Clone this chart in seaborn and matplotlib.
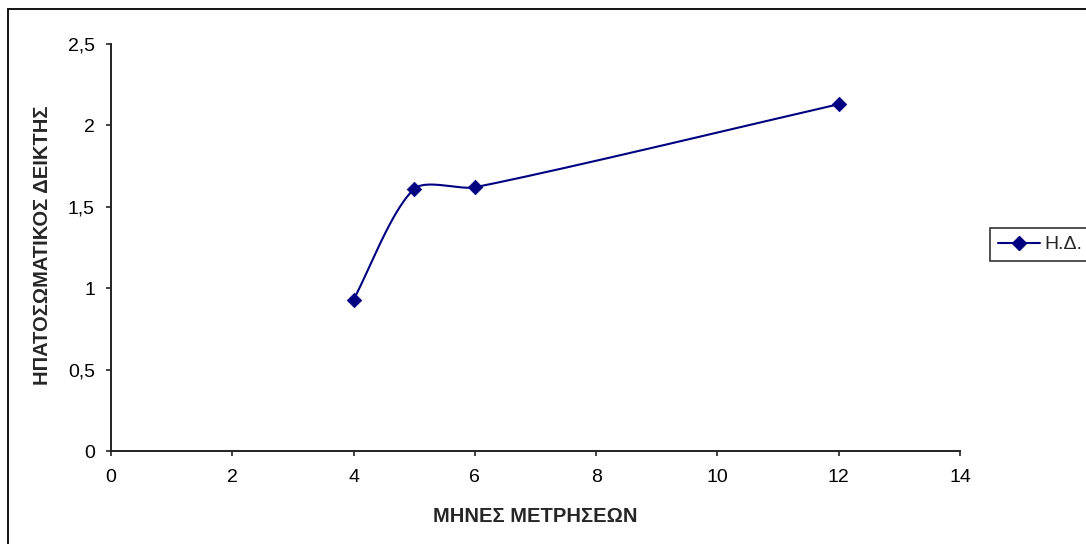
import numpy as np
import pandas as pd
import matplotlib
matplotlib.use("Agg")
import matplotlib.pyplot as plt
from matplotlib.lines import Line2D
from matplotlib.patches import Rectangle
import seaborn as sns

# ---- data ----
months = [4, 5, 6, 12]
values = [0.93, 1.61, 1.62, 2.13]
series_label = "Η.Δ."
x_label = "ΜΗΝΕΣ ΜΕΤΡΗΣΕΩΝ"
y_label = "ΗΠΑΤΟΣΩΜΑΤΙΚΟΣ ΔΕΙΚΤΗΣ"
x_ticks = [0, 2, 4, 6, 8, 10, 12, 14]
y_ticks = [0, 0.5, 1, 1.5, 2, 2.5]
y_ticklabels = ["0", "0,5", "1", "1,5", "2", "2,5"]

sns.set_style("white")
plt.rcParams["font.family"] = ["Liberation Sans", "DejaVu Sans"]

W, H = 1086, 544
fig = plt.figure(figsize=(W / 100, H / 100), dpi=100)
ax = fig.add_axes([111 / W, 1 - 451 / H, (960 - 111) / W, (451 - 44) / H])

NAVY = "#000080"


def smooth_curve(xs, ys, sx, sy, k=0.25, n=80):
    """Excel-like smoothed line (cubic Bezier through the points), in screen-scaled space."""
    P = np.column_stack([np.asarray(xs, float) * sx, np.asarray(ys, float) * sy])
    m = len(P)
    out = []
    for i in range(m - 1):
        a, b = P[i], P[i + 1]
        seg = np.linalg.norm(b - a) * k
        d0 = (P[i + 1] - P[i - 1]) if i > 0 else (b - a)
        d1 = (P[i + 2] - P[i]) if i + 2 < m else (b - a)
        c1 = a + d0 / np.linalg.norm(d0) * seg
        c2 = b - d1 / np.linalg.norm(d1) * seg
        t = np.linspace(0, 1, n)[:, None]
        pts = ((1 - t) ** 3) * a + 3 * ((1 - t) ** 2) * t * c1 + 3 * (1 - t) * t ** 2 * c2 + t ** 3 * b
        out.append(pts if i == 0 else pts[1:])
    out = np.vstack(out)
    return out[:, 0] / sx, out[:, 1] / sy


cx, cy = smooth_curve(months, values, 849 / 14, 407 / 2.5)
curve = pd.DataFrame({"x": cx, "y": cy})
pts = pd.DataFrame({"x": months, "y": values})

sns.lineplot(data=curve, x="x", y="y", sort=False, color=NAVY, lw=1.5, ax=ax, legend=False)
sns.scatterplot(data=pts, x="x", y="y", marker="D", s=55, color=NAVY, edgecolor=NAVY,
                linewidth=0.5, ax=ax, legend=False, zorder=5, clip_on=False)

ax.set_xlim(0, 14)
ax.set_ylim(0, 2.5)
ax.set_xticks(x_ticks)
ax.set_xticklabels([str(v) for v in x_ticks])
ax.set_yticks(y_ticks)
ax.set_yticklabels(y_ticklabels)

for s in ["top", "right"]:
    ax.spines[s].set_visible(False)
for s in ["left", "bottom"]:
    ax.spines[s].set_color("#222222")
    ax.spines[s].set_linewidth(1.4)

ax.tick_params(axis="both", which="major", direction="out", length=3.6, width=1.2,
               color="#222222", labelsize=14, labelcolor="black")
ax.tick_params(axis="x", pad=9, bottom=True)
ax.tick_params(axis="y", pad=8, left=True)

ax.set_xlabel(x_label, fontsize=14.5, fontweight="bold", va="center")
ax.set_ylabel(y_label, fontsize=14.5, fontweight="bold", va="center")
ax.xaxis.set_label_coords(0.5, (451 - 517) / 407)
ax.yaxis.set_label_coords((43 - 111) / 849, 0.505)

handle = Line2D([], [], color=NAVY, lw=1.5, marker="D", markersize=7)
leg = fig.legend([handle], [series_label], loc="upper left",
                 bbox_to_anchor=(990 / W, 1 - 228 / H), frameon=True, fancybox=False,
                 fontsize=14, handlelength=2.15, handletextpad=0.26, borderpad=0.4,
                 borderaxespad=0)
leg.get_frame().set_edgecolor("black")
leg.get_frame().set_linewidth(1.2)

fig.add_artist(Rectangle((8 / W, -0.1), 2, (H - 9) / H + 0.1, transform=fig.transFigure,
                         fill=False, lw=1.3, ec="black"))

fig.savefig("out.png", dpi=100)
